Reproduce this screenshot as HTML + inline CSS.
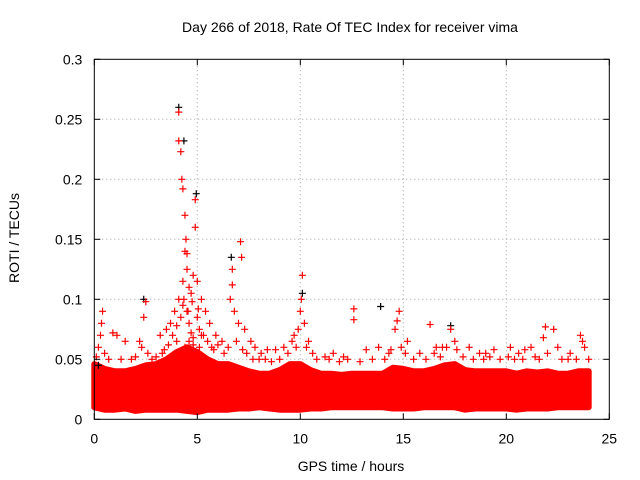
<!DOCTYPE html>
<html><head><meta charset="utf-8"><style>
body{margin:0;background:#fff}
svg{display:block;font-family:"Liberation Sans",sans-serif}
</style></head><body>
<svg id="chart" width="640" height="480" viewBox="0 0 640 480" xmlns="http://www.w3.org/2000/svg">
<rect width="640" height="480" fill="#fff"/>
<text x="350" y="32" font-size="14" text-anchor="middle">Day 266 of 2018, Rate Of TEC Index for receiver vima</text>
<text transform="translate(19,238) rotate(-90)" font-size="14" text-anchor="middle">ROTI / TECUs</text>
<text x="351" y="471" font-size="14" text-anchor="middle">GPS time / hours</text>
<g id="grid"></g>
<g id="band"></g>
<g id="pts"></g>
<g id="axes"></g>
</svg>
<script>
const xTicks=[0,5,10,15,20,25];
const yTicks=[0,0.05,0.1,0.15,0.2,0.25,0.3];
const yTickLabels=["0","0.05","0.1","0.15","0.2","0.25","0.3"];
const bandTimes=[0,0.5,1,1.5,2,2.5,3,3.5,4,4.5,5,5.5,6,6.5,7,7.5,8,8.5,9,9.5,10,10.5,11,11.5,12,12.5,13,13.5,14,14.5,15,15.5,16,16.5,17,17.5,18,18.5,19,19.5,20,20.5,21,21.5,22,22.5,23,23.5,24];
const bandUpper=[0.046,0.042,0.04,0.04,0.042,0.045,0.046,0.05,0.056,0.06,0.056,0.05,0.046,0.046,0.043,0.04,0.038,0.038,0.041,0.046,0.046,0.041,0.038,0.038,0.037,0.038,0.038,0.038,0.038,0.043,0.042,0.04,0.04,0.042,0.045,0.046,0.041,0.04,0.04,0.04,0.04,0.038,0.04,0.039,0.04,0.038,0.038,0.04,0.04];
const bandLower=[0.01,0.008,0.008,0.009,0.007,0.008,0.008,0.008,0.008,0.007,0.006,0.008,0.008,0.008,0.009,0.009,0.01,0.009,0.008,0.008,0.008,0.009,0.009,0.01,0.01,0.01,0.01,0.01,0.01,0.009,0.009,0.009,0.01,0.01,0.01,0.01,0.008,0.009,0.009,0.009,0.009,0.008,0.009,0.009,0.009,0.01,0.01,0.01,0.01];
const redT=[4.1,4.1,4.2,4.25,4.3,4.4,4.45,4.5,4.9,4.9,4.4,4.5,4.3,4.6,4.7,4.8,5.0,5.2,5.4,4.1,3.9,3.7,3.5,3.2,2.5,2.4,2.2,0.4,0.35,0.3,0.9,1.1,1.5,6.7,6.7,6.6,6.8,7.1,7.15,7.0,7.3,7.6,7.8,8.1,8.4,10.1,10.05,10.0,9.9,9.7,10.3,10.6,11.2,12.6,12.6,13.2,13.8,14.4,14.8,14.7,14.6,15.2,16.3,16.6,17.3,17.5,18.2,18.7,19.4,20.2,20.6,21.2,21.9,21.8,22.3,22.5,23.1,23.6,23.7,5.6,5.9,6.2,8.8,9.2,11.6,12.1,15.8,16.9,19.0,20.9,
 3.6,3.8,4.0,4.2,4.3,4.5,4.6,4.7,4.8,5.0,5.1,5.3,5.5,5.7,3.4,3.3,3.0,2.8,2.6,2.3,2.0,1.8,1.3,0.7,0.5,0.2,0.1,4.0,4.4,4.6,4.8,5.1,5.2,5.8,6.0,6.3,6.5,6.9,7.2,7.4,7.7,8.0,8.3,8.6,9.0,9.4,9.6,9.8,10.2,10.4,10.8,11.4,11.9,12.3,12.9,13.5,14.1,14.3,14.9,15.1,15.5,16.1,16.5,16.8,17.1,17.6,17.9,18.4,18.9,19.2,19.7,20.1,20.4,20.8,21.4,21.6,22.0,22.7,23.0,23.4,23.8,24.0,4.35,4.55,4.75,5.05];
const redV=[0.256,0.232,0.223,0.2,0.192,0.17,0.15,0.138,0.183,0.16,0.14,0.125,0.115,0.11,0.105,0.12,0.115,0.1,0.09,0.1,0.09,0.08,0.075,0.07,0.098,0.085,0.065,0.09,0.08,0.07,0.072,0.07,0.065,0.125,0.112,0.1,0.09,0.148,0.135,0.08,0.075,0.065,0.06,0.055,0.058,0.12,0.1,0.09,0.075,0.07,0.06,0.055,0.052,0.092,0.083,0.058,0.06,0.058,0.09,0.082,0.075,0.065,0.079,0.06,0.075,0.065,0.06,0.055,0.058,0.06,0.055,0.06,0.077,0.068,0.075,0.06,0.055,0.07,0.065,0.08,0.07,0.065,0.058,0.06,0.055,0.052,0.055,0.06,0.055,0.058,
 0.062,0.07,0.078,0.085,0.095,0.09,0.08,0.072,0.068,0.085,0.075,0.07,0.065,0.06,0.058,0.055,0.052,0.05,0.055,0.06,0.052,0.05,0.05,0.05,0.055,0.06,0.052,0.065,0.06,0.065,0.062,0.06,0.07,0.058,0.062,0.055,0.06,0.065,0.058,0.055,0.05,0.05,0.05,0.048,0.05,0.055,0.065,0.06,0.08,0.065,0.05,0.05,0.048,0.05,0.048,0.05,0.05,0.055,0.06,0.055,0.05,0.05,0.055,0.052,0.06,0.058,0.052,0.05,0.05,0.052,0.05,0.052,0.05,0.05,0.052,0.05,0.055,0.05,0.05,0.05,0.06,0.05,0.1,0.09,0.098,0.092];
const blackT=[4.1,4.35,4.95,6.65,13.9,17.3,2.4,0.2,10.1];
const blackV=[0.26,0.232,0.188,0.135,0.094,0.078,0.1,0.045,0.105];
const X0=94.3,X1=609.3,Y0=419.3,Y1=59.3;
const sx=t=>X0+(t-0)/(25-0)*(X1-X0);
const sy=v=>Y0+(v-0)/(0.3-0)*(Y1-Y0);
const NS="http://www.w3.org/2000/svg";
function mk(tag,attrs,parent){const e=document.createElementNS(NS,tag);for(const k in attrs)e.setAttribute(k,attrs[k]);parent.appendChild(e);return e;}
const grid=document.getElementById('grid'),axes=document.getElementById('axes'),band=document.getElementById('band'),pts=document.getElementById('pts');
xTicks.forEach((t,i)=>{const x=sx(t);
 if(i>0&&i<xTicks.length-1){const g=mk('line',{x1:x,x2:x,y1:Y0,y2:Y1,stroke:'#a0a0a0','stroke-dasharray':'1,3'},grid);}
 mk('line',{x1:x,x2:x,y1:Y0,y2:Y0-6,stroke:'#000'},axes);mk('line',{x1:x,x2:x,y1:Y1,y2:Y1+6,stroke:'#000'},axes);
 const l=mk('text',{x:x,y:Y0+24,'font-size':14,'text-anchor':'middle'},axes);l.textContent=String(t);
 
 });
yTicks.forEach((v,i)=>{const y=sy(v);
 if(i>0&&i<yTicks.length-1){const g=mk('line',{x1:X0,x2:X1,y1:y,y2:y,stroke:'#a0a0a0','stroke-dasharray':'1,3'},grid);}
 mk('line',{x1:X0,x2:X0+6,y1:y,y2:y,stroke:'#000'},axes);mk('line',{x1:X1,x2:X1-6,y1:y,y2:y,stroke:'#000'},axes);
 const l=mk('text',{x:X0-12,y:y+5,'font-size':14,'text-anchor':'end'},axes);l.textContent=yTickLabels[i];
 
 });
const fr=mk('rect',{x:X0,y:Y1,width:X1-X0,height:Y0-Y1,fill:'none',stroke:'#000'},axes);


let d='M'+bandTimes.map((t,i)=>sx(t)+','+sy(bandUpper[i])).join(' L');
d+=' L'+bandTimes.slice().reverse().map((t,j)=>{const i=bandTimes.length-1-j;return sx(t)+','+sy(bandLower[i]);}).join(' L')+' Z';
const bp=mk('path',{d:d,fill:'#ff0000',stroke:'#ff0000','stroke-width':6,'stroke-linejoin':'round'},band);


function cross(t,v,c,name){const x=sx(t),y=sy(v);const p=mk('path',{d:`M${x-3.5},${y}h7M${x},${y-3.5}v7`,stroke:c,'stroke-width':1.2,fill:'none'},pts);
 
 }
blackT.forEach((t,i)=>cross(t,blackV[i],'#000','roti-point-black'));
redT.forEach((t,i)=>cross(t,redV[i],'#ff0000','roti-point-red'));
</script>
</body></html>
